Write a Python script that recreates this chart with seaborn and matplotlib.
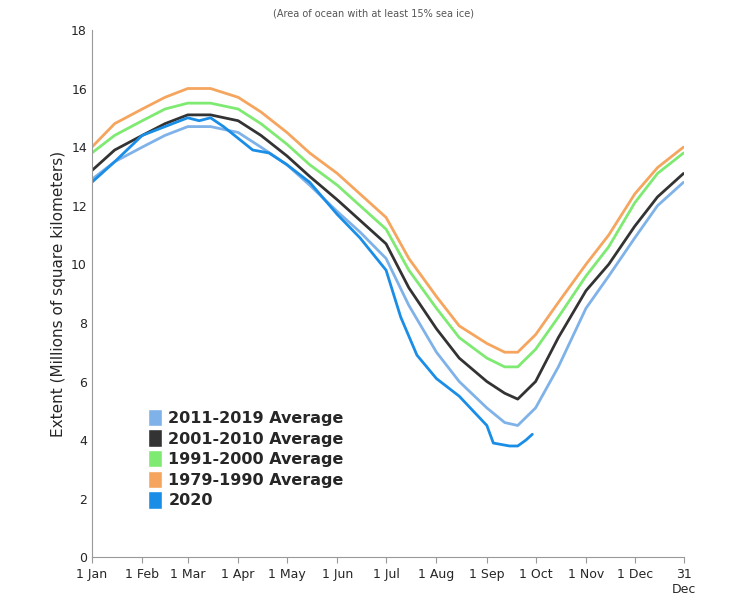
import numpy as np
import pandas as pd
import seaborn as sns
import matplotlib.pyplot as plt
from matplotlib.patches import Patch

# day-of-year sample points
days = [1, 15, 32, 46, 60, 74, 91, 105, 121, 135, 152, 166, 182, 196, 213, 227, 244, 255, 263, 274, 288, 305, 319, 335, 349, 365]
avg_1979 = [14.0, 14.8, 15.3, 15.7, 16.0, 16.0, 15.7, 15.2, 14.5, 13.8, 13.1, 12.4, 11.6, 10.2, 8.9, 7.9, 7.3, 7.0, 7.0, 7.6, 8.7, 10.0, 11.0, 12.4, 13.3, 14.0]
avg_1991 = [13.8, 14.4, 14.9, 15.3, 15.5, 15.5, 15.3, 14.8, 14.1, 13.4, 12.7, 12.0, 11.2, 9.8, 8.5, 7.5, 6.8, 6.5, 6.5, 7.1, 8.2, 9.6, 10.6, 12.1, 13.1, 13.8]
avg_2001 = [13.2, 13.9, 14.4, 14.8, 15.1, 15.1, 14.9, 14.4, 13.7, 13.0, 12.2, 11.5, 10.7, 9.2, 7.8, 6.8, 6.0, 5.6, 5.4, 6.0, 7.5, 9.1, 10.0, 11.3, 12.3, 13.1]
avg_2011 = [12.9, 13.5, 14.0, 14.4, 14.7, 14.7, 14.5, 14.0, 13.4, 12.7, 11.8, 11.1, 10.2, 8.6, 7.0, 6.0, 5.1, 4.6, 4.5, 5.1, 6.5, 8.5, 9.6, 10.9, 12.0, 12.8]
days_2020 = [1, 15, 32, 46, 60, 67, 74, 82, 91, 100, 110, 121, 135, 152, 166, 182, 191, 201, 213, 227, 244, 248, 258, 263, 268, 272]
ext_2020 = [12.8, 13.5, 14.4, 14.7, 15.0, 14.9, 15.0, 14.7, 14.3, 13.9, 13.8, 13.4, 12.8, 11.7, 10.9, 9.8, 8.2, 6.9, 6.1, 5.5, 4.5, 3.9, 3.8, 3.8, 4.0, 4.2]

month_ticks = [1, 32, 60, 91, 121, 152, 182, 213, 244, 274, 305, 335, 365]
month_labels = ["1 Jan", "1 Feb", "1 Mar", "1 Apr", "1 May", "1 Jun", "1 Jul", "1 Aug", "1 Sep", "1 Oct", "1 Nov", "1 Dec", "31\nDec"]

series = [
    ("2011-2019 Average", days, avg_2011, "#7fb2e8"),
    ("2001-2010 Average", days, avg_2001, "#333333"),
    ("1991-2000 Average", days, avg_1991, "#7eea72"),
    ("1979-1990 Average", days, avg_1979, "#f5a55e"),
    ("2020", days_2020, ext_2020, "#1a8ee6"),
]

sns.set_style("ticks")
fig, ax = plt.subplots(figsize=(7.47, 5.98), dpi=100)
fig.subplots_adjust(left=0.123, right=0.915, top=0.95, bottom=0.068)

order = [3, 2, 1, 0, 4]
for i in order:
    name, x, y, c = series[i]
    sns.lineplot(x=x, y=y, color=c, lw=2.0, ax=ax)

ax.set_xlim(1, 365)
ax.set_ylim(0, 18)
ax.set_yticks(range(0, 19, 2))
ax.set_xticks(month_ticks)
ax.set_xticklabels(month_labels, fontsize=9)
ax.tick_params(axis="y", labelsize=9, length=0)
ax.tick_params(axis="x", length=4, color="#999999")
for s in ["top", "right"]:
    ax.spines[s].set_visible(False)
ax.spines["left"].set_color("#999999")
ax.spines["bottom"].set_color("#999999")
ax.set_ylabel("Extent (Millions of square kilometers)", fontsize=11)
ax.set_xlabel("")
fig.text(0.5, 0.985, "(Area of ocean with at least 15% sea ice)", ha="center", va="top", fontsize=7, color="#555555")

handles = [Patch(facecolor=c, label=n) for n, _, _, c in series]
leg = ax.legend(handles=handles, loc="lower left", bbox_to_anchor=(0.07, 0.065), frameon=False,
                prop={"weight": "bold", "size": 11.5}, handlelength=0.9, handleheight=1.3,
                labelspacing=0.2, handletextpad=0.4)

fig.savefig("out.png", dpi=100)
